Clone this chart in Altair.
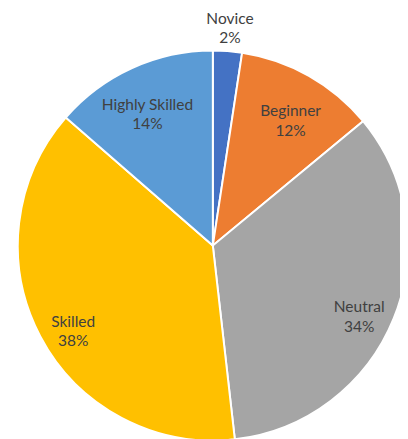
import altair as alt
import pandas as pd

categories = ["Novice", "Beginner", "Neutral", "Skilled", "Highly Skilled"]
shares = [2.4, 11.6, 34.2, 38.2, 13.6]
pct_labels = ["2%", "12%", "34%", "38%", "14%"]
colors = ["#4472C4", "#ED7D31", "#A5A5A5", "#FFC000", "#5B9BD5"]

df = pd.DataFrame({
    "cat": categories,
    "share": shares,
    "pct": pct_labels,
    "order": list(range(len(categories))),
})

CX, CY, R = 209, 238, 199

base = alt.Chart(df).encode(
    theta=alt.Theta("share:Q", stack=True),
    order=alt.Order("order:Q", sort="ascending"),
    x=alt.value(CX),
    y=alt.value(CY),
)

arcs = base.mark_arc(outerRadius=R, stroke="white", strokeWidth=2).encode(
    color=alt.Color("cat:N", scale=alt.Scale(domain=categories, range=colors), legend=None)
)

inner = base.transform_calculate(
    lab="datum.cat == 'Novice' ? '' : datum.cat + '\\n' + datum.pct"
).mark_text(radius=161, dy=3, font="Lato", fontSize=15.8, color="#404040",
            lineBreak="\n", lineHeight=20, align="center", baseline="middle").encode(
    text="lab:N"
)

outer = base.transform_calculate(
    lab="datum.cat == 'Novice' ? datum.cat + '\\n' + datum.pct : ''"
).mark_text(radius=232, font="Lato", fontSize=15.8, color="#404040",
            lineBreak="\n", lineHeight=20, align="center", baseline="middle").encode(
    text="lab:N"
)

chart = alt.layer(arcs, inner, outer).properties(
    width=400, height=431, autosize="none", padding=0
).configure_view(stroke=None)

chart.save("out.html", embed_options={"renderer": "svg", "actions": False})
